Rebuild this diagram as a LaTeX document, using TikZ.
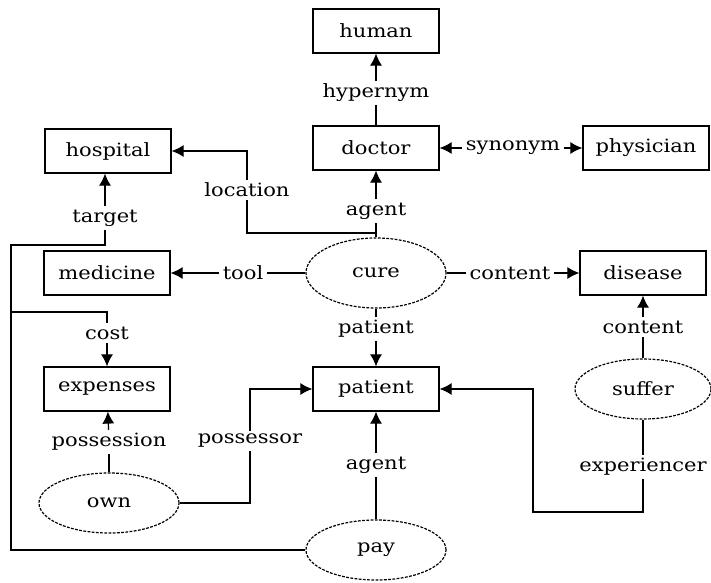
\documentclass[tikz,border=0pt]{standalone}
\usepackage{fontspec}
\setmainfont{DejaVu Serif}[FakeStretch=1.15]
\usetikzlibrary{arrows.meta, shapes.geometric, positioning}

\begin{document}
\begin{tikzpicture}[x=0.025cm, y=-0.025cm, line width=0.85pt,
		>={Latex[length=3mm,width=3mm]},
		concept/.style={draw, rectangle, minimum width=3.15cm, minimum height=1.1cm, font=\fontsize{13}{15}\selectfont},
		act/.style={draw, dash pattern=on 2pt off 1pt, ellipse, minimum width=3.5cm, minimum height=1.5cm, font=\fontsize{13}{15}\selectfont},
		rel/.style={inner sep=2pt, font=\fontsize{13}{15}\selectfont}]

		\useasboundingbox (0, 0) rectangle (711, 583);

		%% Nodes
		% Concepts
		\begin{scope}
			\node (human) at (376, 31) [concept] {human};
			\node (doctor) at (376, 148) [concept] {doctor};
			\node (physician) at (646, 148) [concept] {physician};
			\node (hospital) at (108, 151) [concept] {hospital};
			\node (medicine) at (107, 273) [concept] {medicine};
			\node (disease) at (643, 273) [concept] {disease};
			\node (expenses) at (107, 389) [concept] {expenses};
			\node (patient) at (376, 389) [concept] {patient};
		\end{scope}

		% Acts
		\begin{scope}
			\node (cure) at (376, 273) [act, minimum height=1.75cm] {cure};
			\node (suffer) at (643, 389) [act, minimum width=3.4cm] {suffer};
			\node (own) at (109, 503) [act] {own};
			\node (pay) at (376, 550) [act] {pay};
		\end{scope}

		% Relations
		\begin{scope}
			\node (hypernym) at (376, 93) [rel] {hypernym};
			\node (synonym) at (513, 148) [rel] {synonym};
			\node (location) at (247, 190) [rel] {location};
			\node (agent_cure) at (376, 211) [rel] {agent};
			\node (target) at (105, 218) [rel] {target};
			\node (tool) at (243, 273) [rel] {tool};
			\node (content_cure) at (510, 273) [rel] {content};
			\node (cost) at (107, 333) [rel] {cost};
			\node (patient_cure) at (376, 329) [rel] {patient};
			\node (content_suffer) at (643, 327) [rel] {content};
			\node (possession) at (109, 442) [rel] {possession};
			\node (possessor) at (250, 441) [rel] {possessor};
			\node (agent_pay) at (376, 465) [rel] {agent};
			\node (experiencer) at (643, 467) [rel] {experiencer};
		\end{scope}

		% Corners
		\coordinate (loc_corner) at (247, 233);
		\coordinate (rail_top) at (11, 245);
		\coordinate (rail_fork) at (11, 312);
		\coordinate (exp_corner) at (533, 512);

		%% Edges
		\draw (doctor) -- (hypernym);
		\draw[->] (hypernym) -- (human);
		\draw[<-] (doctor) -- (synonym);
		\draw[->] (synonym) -- (physician);

		\draw (cure) -- (agent_cure);
		\draw[->] (agent_cure) -- (doctor);
		\draw (cure.north |- loc_corner) -- (loc_corner) -- (location);
		\draw[->] (location) |- (hospital.east);

		\draw (cure) -- (tool);
		\draw[->] (tool) -- (medicine);
		\draw (cure) -- (content_cure);
		\draw[->] (content_cure) -- (disease);
		\draw (cure) -- (patient_cure);
		\draw[->] (patient_cure) -- (patient);

		\draw (suffer) -- (content_suffer);
		\draw[->] (content_suffer) -- (disease);
		\draw (suffer) -- (experiencer);
		\draw[->] (experiencer) |- (exp_corner) |- (patient.east);

		\draw (own) -- (possession);
		\draw[->] (possession) -- (expenses);
		\draw (own.east) -| (possessor);
		\draw[->] (possessor) |- (patient.west);

		\draw (pay) -- (agent_pay);
		\draw[->] (agent_pay) -- (patient);
		\draw (pay.west) -| (rail_top) -| (target);
		\draw[->] (target) -- (target |- hospital.south);
		\draw (rail_fork) -| (cost);
		\draw[->] (cost) -- (expenses);
	\end{tikzpicture}
\end{document}
